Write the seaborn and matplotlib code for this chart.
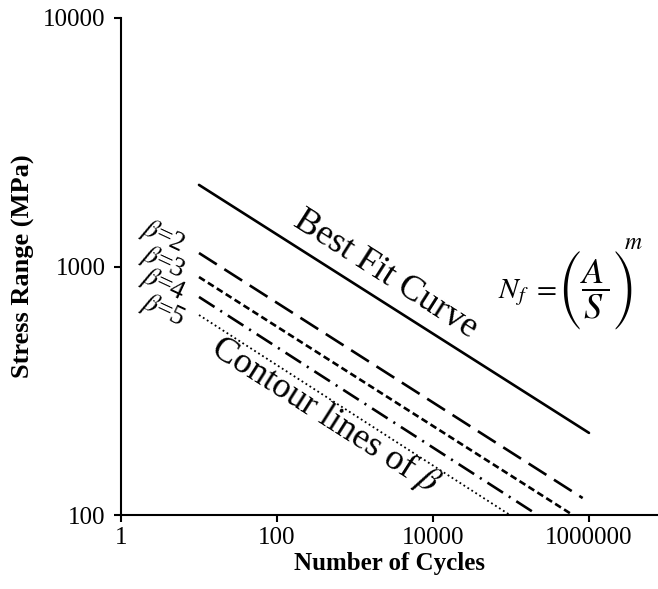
import numpy as np
import pandas as pd
import seaborn as sns
import matplotlib
matplotlib.use("Agg")
import matplotlib.pyplot as plt

# ---- data ----
series_names = ["Best Fit", "beta=2", "beta=3", "beta=4", "beta=5"]
best_cycles = [10, 1.0e6]
best_stress = [2130, 214]
b2_cycles = [10, 8.3e5]
b2_stress = [1133, 117]
b3_cycles = [10, 6.2e5]
b3_stress = [907, 100]
b4_cycles = [10, 2.2e5]
b4_stress = [754, 100]
b5_cycles = [10, 9.7e4]
b5_stress = [638, 100]

beta_labels = [r"$\beta$=2", r"$\beta$=3", r"$\beta$=4", r"$\beta$=5"]
x_ticks = [1, 100, 10000, 1000000]
x_tick_labels = ["1", "100", "10000", "1000000"]
y_ticks = [100, 1000, 10000]
y_tick_labels = ["100", "1000", "10000"]

all_cycles = [best_cycles, b2_cycles, b3_cycles, b4_cycles, b5_cycles]
all_stress = [best_stress, b2_stress, b3_stress, b4_stress, b5_stress]
rows = []
for name, cs, ss in zip(series_names, all_cycles, all_stress):
    for c, s in zip(cs, ss):
        rows.append({"series": name, "cycles": c, "stress": s})
df = pd.DataFrame(rows)

sns.set_theme(style="ticks")
plt.rcParams["font.family"] = ["Liberation Serif", "DejaVu Serif"]
plt.rcParams["mathtext.fontset"] = "stix"
plt.rcParams["text.color"] = "black"
plt.rcParams["axes.labelcolor"] = "black"
plt.rcParams["xtick.color"] = "black"
plt.rcParams["ytick.color"] = "black"

fig = plt.figure(figsize=(6.58, 5.89), dpi=100)
ax = fig.add_axes([121 / 658, 74 / 589, 537 / 658, 497 / 589])

dashes = {
    "Best Fit": "",
    "beta=2": (8, 3.4),
    "beta=3": (2.6, 1.4),
    "beta=4": (7, 2.6, 0.8, 2.6),
    "beta=5": (1, 1.6),
}
sns.lineplot(data=df, x="cycles", y="stress", style="series", dashes=dashes,
             style_order=series_names, color="black", legend=False, ax=ax,
             estimator=None, sort=False)
widths = [1.9, 1.9, 1.9, 1.9, 1.3]
for line, w in zip(ax.get_lines(), widths):
    line.set_linewidth(w)
    line.set_dash_capstyle("butt")

ax.set_xscale("log")
ax.set_yscale("log")
ax.set_xlim(1, 10 ** 6.885)
ax.set_ylim(100, 10000)
ax.set_xticks(x_ticks)
ax.set_xticklabels(x_tick_labels)
ax.set_yticks(y_ticks)
ax.set_yticklabels(y_tick_labels)
ax.minorticks_off()
ax.tick_params(axis="both", which="major", direction="out", length=5, width=1.5,
               labelsize=18, color="black", labelcolor="black")
ax.tick_params(axis="y", pad=6)
ax.tick_params(axis="x", pad=4)
for side in ["top", "right"]:
    ax.spines[side].set_visible(False)
for side in ["left", "bottom"]:
    ax.spines[side].set_linewidth(1.5)
    ax.spines[side].set_color("black")

ax.set_xlabel("Number of Cycles", fontsize=18, fontweight="bold", labelpad=2)
ax.set_ylabel("Stress Range (MPa)", fontsize=19, fontweight="bold", labelpad=6)

ax.text(0.492, 0.483, "Best Fit Curve", transform=ax.transAxes, fontsize=26,
        rotation=-32.5, rotation_mode="anchor", ha="center", va="center")
ax.text(0.38, 0.201, r"Contour lines of $\beta$", transform=ax.transAxes, fontsize=26,
        rotation=-32.5, rotation_mode="anchor", ha="center", va="center")

# formula N_f = (A/S)^m, assembled from pieces
ax.text(0.812, 0.4366, r"$N_f\ =$", transform=ax.transAxes, fontsize=21,
        ha="right", va="baseline")
ax.text(0.8827, 0.4527,
        r"$\left(\dfrac{\genfrac{}{}{0}{0}{\,}{A}}{\genfrac{}{}{0}{0}{S}{\,}}\right)$",
        transform=ax.transAxes, fontsize=26, ha="center", va="center")
ax.text(0.937, 0.547, r"$m$", transform=ax.transAxes, fontsize=17,
        ha="left", va="center")

for lab, yy in zip(beta_labels, [0.561, 0.509, 0.463, 0.412]):
    ax.text(0.078, yy, lab, transform=ax.transAxes, fontsize=20,
            rotation=-25, rotation_mode="anchor", ha="center", va="center")

fig.savefig("out.png", dpi=100)
